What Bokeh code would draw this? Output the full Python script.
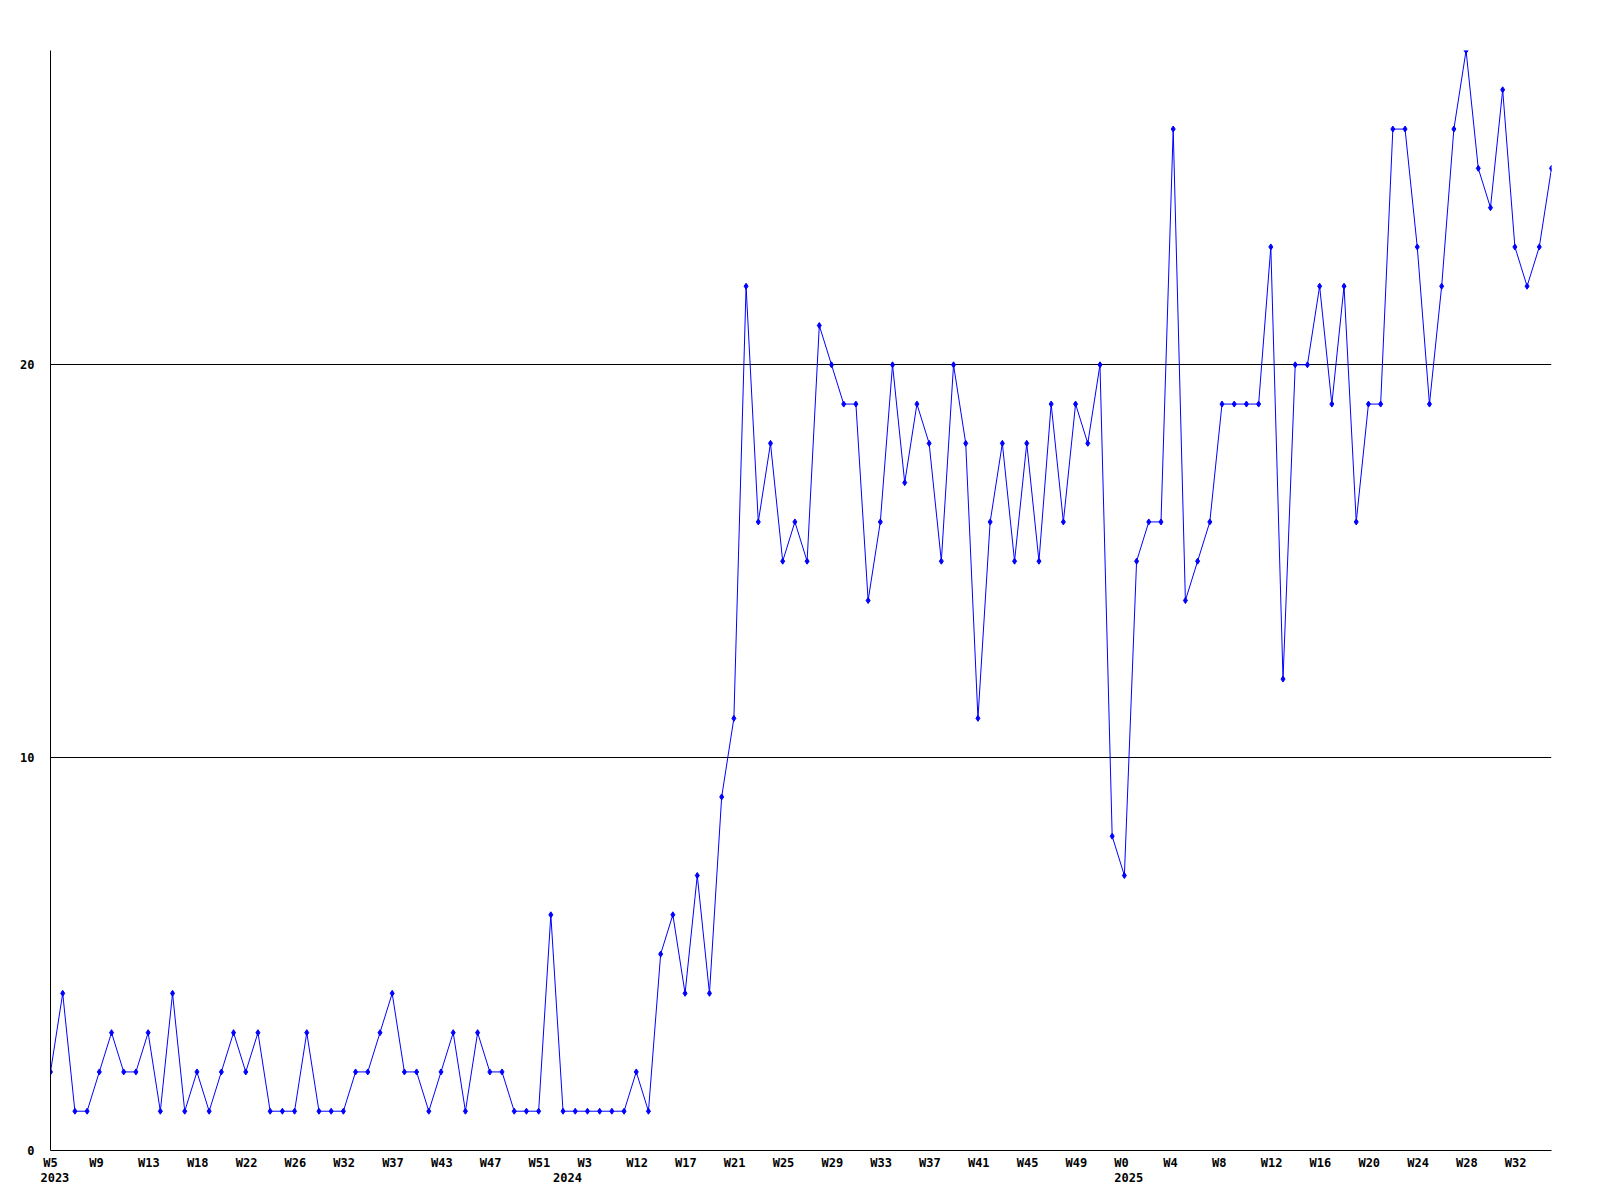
from bokeh.plotting import figure
from bokeh.models import Range1d, FixedTicker, LinearAxis, ColumnDataSource
from bokeh.embed import file_html
from bokeh.resources import INLINE

# Weekly counts, one per plotted week (W5 2023 ... W33 2025)
counts = [
    2, 4, 1, 1, 2, 3, 2, 2, 3, 1, 4, 1, 2, 1, 2, 3, 2, 3, 1, 1,
    1, 3, 1, 1, 1, 2, 2, 3, 4, 2, 2, 1, 2, 3, 1, 3, 2, 2, 1, 1,
    1, 6, 1, 1, 1, 1, 1, 1, 2, 1, 5, 6, 4, 7, 4, 9, 11, 22, 16, 18,
    15, 16, 15, 21, 20, 19, 19, 14, 16, 20, 17, 19, 18, 15, 20, 18, 11, 16, 18, 15,
    18, 15, 19, 16, 19, 18, 20, 8, 7, 15, 16, 16, 26, 14, 15, 16, 19, 19, 19, 19,
    23, 12, 20, 20, 22, 19, 22, 16, 19, 19, 26, 26, 23, 19, 22, 26, 28, 25, 24, 27,
    23, 22, 23, 25,
]

# Week tick labels (every 4th plotted week)
week_labels = ["W5", "W9", "W13", "W18", "W22", "W26", "W32", "W37", "W43", "W47",
               "W51", "W3", "W12", "W17", "W21", "W25", "W29", "W33", "W37", "W41",
               "W45", "W49", "W0", "W4", "W8", "W12", "W16", "W20", "W24", "W28", "W32"]
week_label_step = 4

# Year labels and the index of the first plotted week of each year
year_labels = ["2023", "2024", "2025"]
year_start_index = [0, 42, 88]

y_ticks = [0, 10, 20]

FONT = "DejaVu Sans Mono"
FSIZE = "12px"
FRAME_W = 1501            # plot frame width in px
PX_PER_UNIT = FRAME_W / (len(counts) - 1)


def label_pos(idx, label):
    # labels start ~10px left of their tick (left aligned), ~7px per char
    return max(0.0, idx + (-10 + 3.6 * len(label)) / PX_PER_UNIT)


x = list(range(len(counts)))
src = ColumnDataSource(dict(x=x, y=counts))

p = figure(width=1588, height=1193, output_backend="svg", toolbar_location=None,
           x_range=Range1d(0, len(counts) - 1), y_range=Range1d(0, max(counts)),
           min_border_left=50, min_border_top=50, min_border_right=37, min_border_bottom=43,
           x_axis_location=None, y_axis_location="left")
p.background_fill_color = "white"
p.border_fill_color = "white"
p.outline_line_color = None

p.line("x", "y", source=src, line_color="#0000ff", line_width=1)
p.scatter("x", "y", source=src, marker="diamond", size=6,
          fill_color="#0000ff", line_color="#0000ff")


def style(ax, standoff):
    ax.major_tick_out = 0
    ax.major_tick_in = 0
    ax.minor_tick_out = 0
    ax.minor_tick_in = 0
    ax.major_label_standoff = standoff
    ax.major_label_text_font = FONT
    ax.major_label_text_font_style = "bold"
    ax.major_label_text_font_size = FSIZE
    ax.major_label_text_color = "black"


# Y axis
ya = p.yaxis[0]
ya.ticker = FixedTicker(ticks=y_ticks)
style(ya, 16)
ya.axis_line_color = "black"

# Week axis (labels positioned as in the reference: left-aligned near the tick)
tick_pos = [label_pos(i * week_label_step, l) for i, l in enumerate(week_labels)]
xa = LinearAxis(ticker=FixedTicker(ticks=tick_pos),
                major_label_overrides={t: l for t, l in zip(tick_pos, week_labels)})
style(xa, 5)
xa.axis_line_color = "black"
p.add_layout(xa, "below")

# Year axis
year_pos = [label_pos(i, l) for i, l in zip(year_start_index, year_labels)]
ya2 = LinearAxis(ticker=FixedTicker(ticks=year_pos),
                 major_label_overrides={t: l for t, l in zip(year_pos, year_labels)})
style(ya2, 0)
ya2.axis_line_color = None
p.add_layout(ya2, "below")

# Grid
p.xgrid.visible = False
p.ygrid.ticker = FixedTicker(ticks=y_ticks)
p.ygrid.grid_line_color = "black"
p.ygrid.grid_line_alpha = 1.0
p.ygrid.grid_line_width = 1

open("out.html", "w").write(file_html(p, INLINE))
